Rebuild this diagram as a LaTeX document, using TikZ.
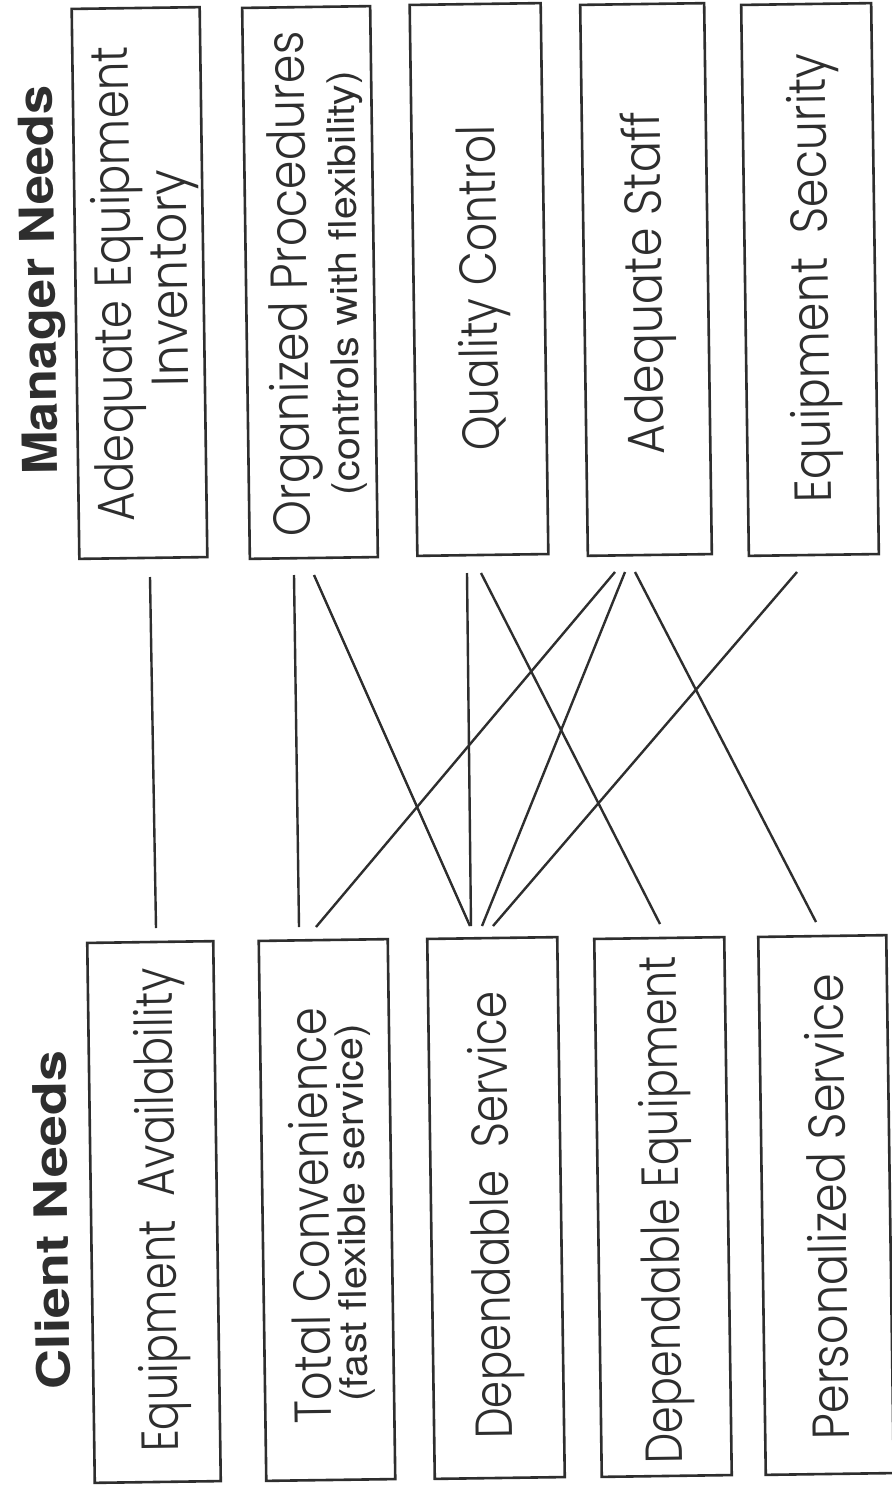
\documentclass[tikz,border=0pt]{standalone}
\usepackage{fontspec}
\usepackage{graphicx}
\usetikzlibrary{calc}
\newfontfamily\agf{Poppins Light}
\newfontfamily\hvf{TeX Gyre Heros}
\definecolor{ink}{HTML}{2E2E2E}
% text fitted to a measured length (pt), font size (pt)
\newcommand\agtext[3]{\resizebox{#1pt}{\height}{\agf\fontsize{#2}{#2}\selectfont #3}}
\newcommand\hvtext[3]{\resizebox{#1pt}{\height}{\hvf\fontsize{#2}{#2}\selectfont #3}}
\newcommand\hvbold[3]{\resizebox{#1pt}{\height}{\hvf\bfseries\fontsize{#2}{#2}\selectfont #3}}
\begin{document}
\begin{tikzpicture}[x=1pt, y=-1pt,
  box/.style={draw=ink, line width=2.6pt, inner sep=0pt, outer sep=0pt, rotate=0.8},
  lbl/.style={text=ink, inner sep=0pt, outer sep=0pt, anchor=base, rotate=90.8},
  link/.style={draw=ink, line width=2.4pt}]
\fill[white] (0,0) rectangle (891,1490);
\useasboundingbox (0,0) rectangle (891,1490);

% Manager needs boxes
\node[box, minimum width=128pt, minimum height=550pt] (m1) at (139.5,283) {};
\node[box, minimum width=128pt, minimum height=551pt] (m2) at (310,282.5) {};
\node[box, minimum width=131pt, minimum height=551pt] (m3) at (479,279.5) {};
\node[box, minimum width=124pt, minimum height=551pt] (m4) at (646,279.5) {};
\node[box, minimum width=130pt, minimum height=551pt] (m5) at (810,279.5) {};

% Client needs boxes
\node[box, minimum width=126pt, minimum height=540pt] (c1) at (154,1212) {};
\node[box, minimum width=129pt, minimum height=540pt] (c2) at (327,1210) {};
\node[box, minimum width=130pt, minimum height=540pt] (c3) at (496,1208) {};
\node[box, minimum width=130pt, minimum height=538pt] (c4) at (663,1207) {};
\node[box, minimum width=128pt, minimum height=538pt] (c5) at (826,1205) {};

% headings
\node[lbl] (hM) at (55,280) {\hvbold{390}{48}{Manager Needs}};
\node[lbl] (hC) at (68,1220) {\hvbold{339}{46}{Client Needs}};

% manager texts
\node[lbl] (tAE) at (131,284) {\agtext{476}{52}{Adequate Equipment}};
\node[lbl] (tIN) at (187,278) {\agtext{217}{52}{Inventory}};
\node[lbl] (tOP) at (307,284) {\agtext{505}{52}{Organized Procedures}};
\node[lbl] (tCW) at (357,283) {\hvtext{425}{38}{(controls with flexibility)}};
\node[lbl] (tQC) at (497,288) {\agtext{326}{52}{Quality Control}};
\node[lbl] (tAS) at (662,283) {\agtext{343}{52}{Adequate Staff}};
\node[lbl] (tES) at (828,278) {\agtext{450}{52}{Equipment\hspace{0.25em} Security}};

% client texts
\node[lbl] (tEA) at (175,1210) {\agtext{484}{52}{Equipment\hspace{0.25em} Availability}};
\node[lbl] (tTC) at (329,1216) {\agtext{416}{52}{Total Convenience}};
\node[lbl] (tFS) at (365,1213) {\hvtext{378}{38}{(fast flexible service)}};
\node[lbl] (tDS) at (509,1215) {\agtext{448}{52}{Dependable\hspace{0.25em} Service}};
\node[lbl] (tDE) at (679,1210) {\agtext{508}{52}{Dependable Equipment}};
\node[lbl] (tPS) at (846,1207) {\agtext{466}{52}{Personalized Service}};

% connectors
\draw[link] ($(m1.center)+(10.5,294)$) -- ($(c1.center)+(2,-284)$);
\draw[link] ($(m2.center)+(-16,292.5)$) -- ($(c2.center)+(-28,-283)$);
\draw[link] ($(m2.center)+(4,292.5)$) -- ($(c3.center)+(-26,-282)$);
\draw[link] ($(m3.center)+(-12,293.5)$) -- ($(c3.center)+(-25,-282)$);
\draw[link] ($(m3.center)+(2,293.5)$) -- ($(c4.center)+(-3,-283)$);
\draw[link] ($(m4.center)+(-31,292.5)$) -- ($(c2.center)+(-11,-283)$);
\draw[link] ($(m4.center)+(-21,292.5)$) -- ($(c3.center)+(-14,-282)$);
\draw[link] ($(m4.center)+(-11,292.5)$) -- ($(c5.center)+(-10,-283)$);
\draw[link] ($(m5.center)+(-13,292.5)$) -- ($(c3.center)+(-3,-282)$);
\end{tikzpicture}
\end{document}
